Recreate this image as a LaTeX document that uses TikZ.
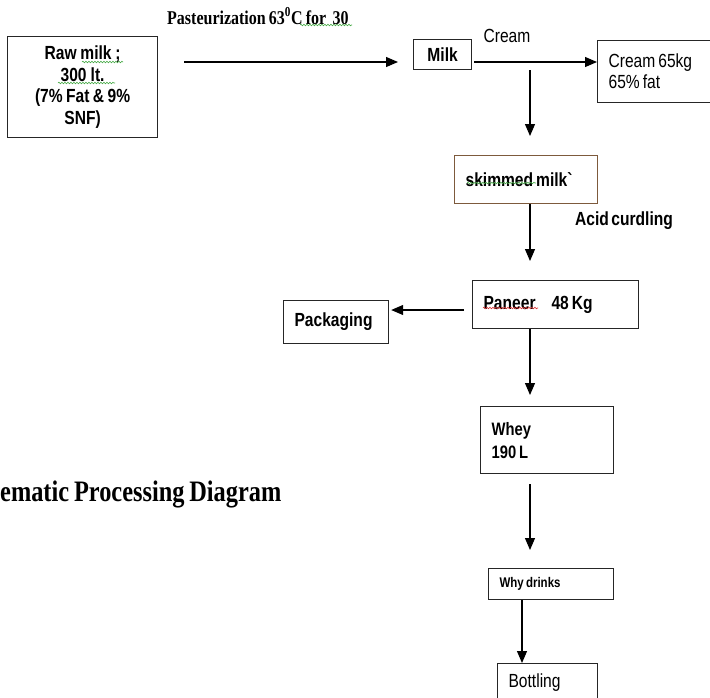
\documentclass[tikz,border=0pt]{standalone}
\usepackage{fontspec}
\setmainfont{Liberation Sans}[FakeStretch=0.82,WordSpace=0.6]
\newfontfamily\tnrfam{Liberation Serif}[FakeStretch=0.82,WordSpace=0.8]
\usetikzlibrary{arrows.meta,decorations.pathmorphing}
\definecolor{sqg}{RGB}{70,170,70}
\definecolor{sqr}{RGB}{220,50,50}
\definecolor{skimb}{RGB}{125,90,60}
\newcommand\mybf{\fontsize{19}{21.7}\selectfont\bfseries}
\newcommand\myrg{\fontsize{19}{21}\selectfont}
\newcommand\mysm{\fontsize{14}{16}\selectfont\bfseries}
\newcommand\mywh{\fontsize{18}{23}\selectfont\bfseries}
\begin{document}
\begin{tikzpicture}[x=1pt,y=-1pt,
  box/.style={draw=black!85, line width=1.2pt, anchor=north west, inner xsep=11pt, inner ysep=0pt, align=left,
    execute at begin node={\spaceskip=0.16em plus 0.05em\relax}},
  arr/.style={line width=1.1pt, -{Triangle[length=12pt,width=10pt]}},
  squig/.style={decorate, decoration={snake, amplitude=0.8pt, segment length=3pt}, line width=0.6pt}]
\useasboundingbox (0,0) rectangle (710,697);
\clip (0,0) rectangle (710,697);

% boxes
\node[box, font=\mybf, text width=128pt, align=center, minimum height=101pt] (raw) at (7,36) {Raw milk ;\\300 lt.\\(7\% Fat \& 9\%\\SNF)};
\node[box, font=\mybf, text width=36pt, align=center, minimum height=30pt] (milk) at (413,39) {Milk};
\node[box, font=\myrg, text width=108pt, minimum height=62pt] (cream) at (597,40) {Cream 65kg\\65\% fat};
\node[box, draw=skimb, font=\mybf, text width=121pt, minimum height=48pt] (skim) at (454,155) {skimmed milk\textasciigrave};
\node[box, font=\mybf, text width=144pt, minimum height=48pt] (paneer) at (472,280) {Paneer\hspace{16pt}48 Kg};
\node[box, font=\mybf, text width=83pt, minimum height=43pt] (pack) at (283,300) {Packaging};
\node[box, font=\mywh, text width=111pt, minimum height=67pt] (whey) at (480,406) {Whey\\190 L};
\node[box, font=\mysm, text width=103pt, minimum height=31pt] (why) at (488,568) {Why drinks};
\node[box, font=\myrg, text width=78pt, minimum height=38pt] (bott) at (497,663) {Bottling};

% labels
\node[font=\tnrfam\fontsize{19.5}{21}\selectfont\bfseries, anchor=west, inner sep=0pt] (past) at (167,16) {Pasteurization 63\textsuperscript{0}C for\ \ 30};
\node[font=\myrg, inner sep=0pt] (creamlbl) at (507,36) {Cream};
\node[font=\mybf, inner sep=0pt] (acid) at (624,221) {Acid curdling};
\node[font=\tnrfam\fontsize{29.7}{31}\selectfont\bfseries, anchor=west, inner sep=0pt] (title) at (0,494) {ematic Processing Diagram};

% helper coordinates
\coordinate (mline) at (0,62);
\coordinate (col) at (530,0);
\coordinate (col2) at (522,0);
\coordinate (pk) at (0,310);

% connectors
\draw[arr, shorten <=26pt, shorten >=15pt] (raw.east |- mline) -- (milk.west |- mline);
\draw[arr, shorten <=2pt] (milk.east |- mline) -- (cream.west |- mline);
\draw[arr, shorten >=19pt] (col |- milk.south) -- (col |- skim.north);
\draw[arr, shorten >=19pt] (col |- skim.south) -- (col |- paneer.north);
\draw[arr, shorten <=8pt, shorten >=2pt] (paneer.west |- pk) -- (pack.east |- pk);
\draw[arr, shorten >=11pt] (col |- paneer.south) -- (col |- whey.north);
\draw[arr, shorten <=10pt, shorten >=18pt] (col |- whey.south) -- (col |- why.north);
\draw[arr] (col2 |- why.south) -- (col2 |- bott.north);

% spell-check squiggles
\draw[squig, sqg] (82,62) -- (123,62);
\draw[squig, sqg] (58,83) -- (115,83);
\draw[squig, sqg] (300,25) -- (352,25);
\draw[squig, sqg] (467,183) -- (536,183);
\draw[squig, sqr] (483,308) -- (538,308);
\end{tikzpicture}
\end{document}
